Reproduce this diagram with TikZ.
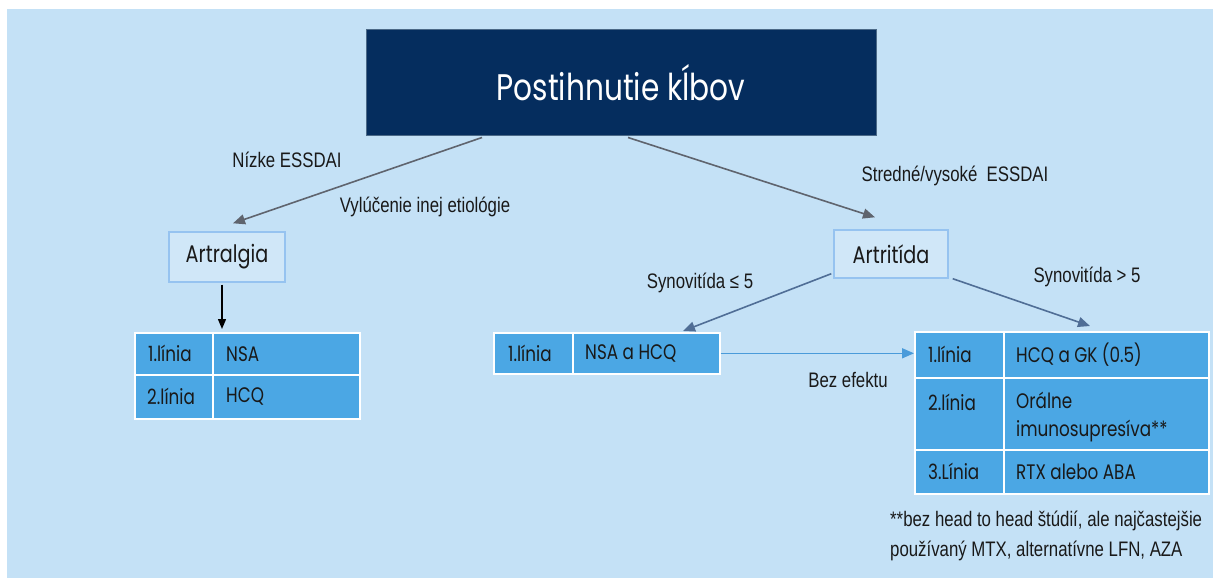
\documentclass[tikz,border=0pt]{standalone}
\usepackage{fontspec}
\usetikzlibrary{arrows.meta}
\newfontfamily\geo[FakeStretch=0.8]{Poppins}
\newfontfamily\lab[FakeStretch=0.8]{Liberation Sans}
\definecolor{bgblue}{RGB}{196,225,246}
\definecolor{navy}{RGB}{5,45,94}
\definecolor{navyedge}{RGB}{75,105,135}
\definecolor{cellblue}{RGB}{75,167,228}
\definecolor{boxedge}{RGB}{150,195,240}
\definecolor{arrgray}{RGB}{95,100,110}
\definecolor{arrsteel}{RGB}{80,110,150}
\definecolor{arrlight}{RGB}{74,155,218}
\definecolor{ink}{RGB}{25,25,25}
\begin{document}
\begin{tikzpicture}[x=1pt,y=-1pt,
  cell/.style={draw=white, line width=1.6pt, fill=cellblue, inner sep=0pt, anchor=north west},
  celltext/.style={font=\geo\fontsize{21}{28}\selectfont, text=ink, inner sep=0pt, anchor=west, align=left},
  choice/.style={draw=boxedge, line width=1.4pt, fill=bgblue!80!white, inner sep=0pt,
    font=\geo\fontsize{24}{28}\selectfont, text=ink},
  lbl/.style={font=\lab\fontsize{21}{30}\selectfont, text=ink, inner sep=0pt},
  flow/.style={line width=1.6pt, -{Triangle[length=12pt,width=10pt]}},
]
% page and panel
\fill[white] (0,0) rectangle (1213,578);
\fill[bgblue] (7,9) rectangle (1213,578);
\useasboundingbox (0,0) rectangle (1213,578);

% heading box
\node[draw=navyedge, line width=1pt, fill=navy, minimum width=510pt, minimum height=105pt,
  font=\geo\fontsize{37}{40}\selectfont, text=white] (title) at (621,82.5) {Postihnutie kĺbov};

% second level
\node[choice, minimum width=116pt, minimum height=50pt] (artralgia) at (227,257) {Artralgia};
\node[choice, minimum width=114pt, minimum height=48pt] (artritida) at (891,254) {Artritída};

% left table
\node[cell, minimum width=78pt, minimum height=42pt] (L1a) at (134,332) {};
\node[cell, minimum width=147pt, minimum height=42pt] (L1b) at (212,332) {};
\node[cell, minimum width=78pt, minimum height=44pt] (L2a) at (134,374) {};
\node[cell, minimum width=147pt, minimum height=44pt] (L2b) at (212,374) {};
\node[celltext] (tL1a) at ([xshift=14pt]L1a.west) {1.línia};
\node[celltext] (tL1b) at ([xshift=14pt]L1b.west) {NSA};
\node[celltext] (tL2a) at ([xshift=13pt]L2a.west) {2.línia};
\node[celltext] (tL2b) at ([xshift=14pt]L2b.west) {HCQ};

% middle table
\node[cell, minimum width=79pt, minimum height=41pt] (M1a) at (493,332) {};
\node[cell, minimum width=147pt, minimum height=41pt] (M1b) at (572,332) {};
\node[celltext] (tM1a) at ([xshift=15pt]M1a.west) {1.línia};
\node[celltext] (tM1b) at ([xshift=13pt]M1b.west) {NSA a HCQ};

% right table
\node[cell, minimum width=89pt, minimum height=46pt] (R1a) at (914,331) {};
\node[cell, minimum width=205pt, minimum height=46pt] (R1b) at (1003,331) {};
\node[cell, minimum width=89pt, minimum height=72pt] (R2a) at (914,377) {};
\node[cell, minimum width=205pt, minimum height=72pt] (R2b) at (1003,377) {};
\node[cell, minimum width=89pt, minimum height=44pt] (R3a) at (914,449) {};
\node[cell, minimum width=205pt, minimum height=44pt] (R3b) at (1003,449) {};
\node[celltext] (tR1a) at ([xshift=14pt]R1a.west) {1.línia};
\node[celltext] (tR1b) at ([xshift=13pt]R1b.west) {HCQ a GK (0.5)};
\node[celltext] (tR2a) at ([xshift=14pt,yshift=-25pt]R2a.north west) {2.línia};
\node[celltext] (tR2b) at ([xshift=13pt,yshift=-3pt]R2b.west) {Orálne\\imunosupresíva**};
\node[celltext] (tR3a) at ([xshift=14pt]R3a.west) {3.Línia};
\node[celltext] (tR3b) at ([xshift=13pt]R3b.west) {RTX alebo ABA};

% connector labels
\node[lbl] (lowE) at (287,160) {Nízke ESSDAI};
\node[lbl] (excl) at (425,207) {Vylúčenie inej etiológie};
\node[lbl] (highE) at (955,176) {Stredné/vysoké\ \ ESSDAI};
\node[lbl] (synLe) at (700,283) {Synovitída ≤ 5};
\node[lbl] (synGt) at (1087,277) {Synovitída > 5};
\node[lbl] (noeff) at (848,380) {Bez efektu};
\node[lbl, anchor=north west, align=left] (note) at (890,511)
  {**bez head to head štúdií, ale najčastejšie\\používaný MTX, alternatívne LFN, AZA};

% connectors
\draw[flow, arrgray] ([xshift=-139pt,yshift=-2pt]title.south) -- ([xshift=6pt,yshift=8pt]artralgia.north);
\draw[flow, arrgray] ([xshift=7pt,yshift=-2pt]title.south) -- ([xshift=-16pt,yshift=12pt]artritida.north);
\draw[line width=1.4pt, black, -{Triangle[length=10pt,width=8pt]}]
  ([xshift=-5pt,yshift=-2pt]artralgia.south) -- ([xshift=10pt,yshift=3pt]L1b.north west);
\draw[flow, arrsteel] ([xshift=-2pt,yshift=5pt]artritida.south west) -- ([xshift=111pt,yshift=1pt]M1b.north west);
\draw[flow, arrsteel] ([xshift=4pt]artritida.south east) -- ([xshift=87pt,yshift=5pt]R1b.north west);
\draw[flow, arrlight] (M1b.east) -- (M1b.east -| R1a.west);
\end{tikzpicture}
\end{document}
